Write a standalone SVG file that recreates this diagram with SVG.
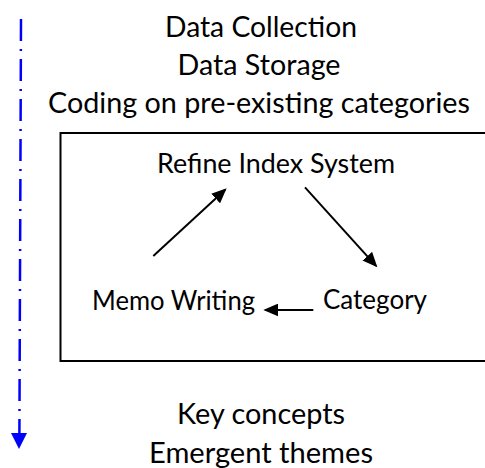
<svg xmlns="http://www.w3.org/2000/svg" width="485" height="468" viewBox="0 0 485 468">
  <style>
    .t { font-family: Lato, "Liberation Sans", sans-serif; fill: #000; text-anchor: middle; }
    .outer { font-size: 28px; }
    .inner { font-size: 26px; }
    .flow { stroke: #000; stroke-width: 2; fill: none; }
  </style>
  <defs>
    <marker id="arrow" markerUnits="userSpaceOnUse" markerWidth="16" markerHeight="13" refX="13" refY="6.5" orient="auto">
      <path d="M0,0 L15,6.5 L0,13 Z" fill="#000"/>
    </marker>
  </defs>

  <rect width="485" height="468" fill="#fff"/>

  <!-- progress axis: blue dash-dot line with arrowhead -->
  <g id="progress-axis">
    <line x1="21" y1="19" x2="19.4" y2="434" stroke="#0000ff" stroke-width="2.5" stroke-dasharray="22 8 2 8"/>
    <path d="M11,433 L27,433 L19,449 Z" fill="#0000ff"/>
  </g>

  <!-- upper stages -->
  <g id="data-collection"><text class="t outer" x="261" y="37" textLength="192" lengthAdjust="spacingAndGlyphs">Data Collection</text></g>
  <g id="data-storage"><text class="t outer" x="259" y="75" textLength="163" lengthAdjust="spacingAndGlyphs">Data Storage</text></g>
  <g id="coding"><text class="t outer" x="259" y="113" textLength="422" lengthAdjust="spacingAndGlyphs">Coding on pre-existing categories</text></g>

  <!-- iterative cycle frame -->
  <g id="cycle-frame">
    <rect x="60.5" y="133" width="440" height="228" fill="none" stroke="#000" stroke-width="2"/>
  </g>

  <g id="refine-index"><text class="t inner" x="276" y="173" textLength="238" lengthAdjust="spacingAndGlyphs">Refine Index System</text></g>
  <g id="memo-writing"><text class="t inner" x="173.5" y="310" textLength="163" lengthAdjust="spacingAndGlyphs">Memo Writing</text></g>
  <g id="category"><text class="t inner" x="375" y="309" textLength="104" lengthAdjust="spacingAndGlyphs">Category</text></g>

  <!-- cycle connectors -->
  <g id="connectors">
    <line class="flow" x1="153.3" y1="256" x2="225.2" y2="189.7" marker-end="url(#arrow)"/>
    <line class="flow" x1="305" y1="187.3" x2="376" y2="265.8" marker-end="url(#arrow)"/>
    <line class="flow" x1="313.3" y1="310" x2="265.3" y2="310" marker-end="url(#arrow)"/>
  </g>

  <!-- lower outcomes -->
  <g id="key-concepts"><text class="t outer" x="261" y="424" textLength="168" lengthAdjust="spacingAndGlyphs">Key concepts</text></g>
  <g id="emergent-themes"><text class="t outer" x="261" y="463" textLength="224" lengthAdjust="spacingAndGlyphs">Emergent themes</text></g>
</svg>
